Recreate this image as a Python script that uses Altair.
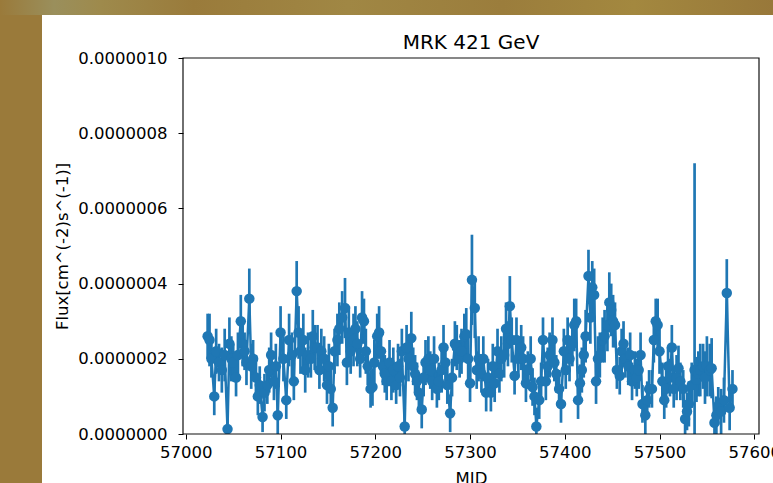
import altair as alt
import pandas as pd

# ---- data (flux in units of 1e-6 cm^-2 s^-1) ----
mjd = [
    57023, 57025, 57027, 57030, 57032, 57035, 57038, 57041, 57044, 57046,
    57048, 57050, 57053, 57055, 57058, 57060, 57062, 57064, 57067, 57069,
    57071, 57074, 57076, 57078, 57081, 57083, 57086, 57088, 57090, 57093,
    57095, 57097, 57100, 57103, 57106, 57109, 57112, 57114, 57117, 57119,
    57121, 57124, 57126, 57129, 57132, 57134, 57136, 57139, 57141, 57143,
    57146, 57149, 57151, 57153, 57155, 57157, 57160, 57162, 57165, 57168,
    57170, 57172, 57174, 57177, 57179, 57181, 57184, 57186, 57188, 57190,
    57192, 57195, 57197, 57199, 57202, 57204, 57206, 57208, 57210, 57212,
    57215, 57217, 57219, 57222, 57224, 57226, 57228, 57231, 57233, 57235,
    57238, 57240, 57242, 57244, 57246, 57249, 57251, 57253, 57256, 57258,
    57260, 57262, 57265, 57267, 57270, 57272, 57274, 57276, 57279, 57281,
    57284, 57286, 57289, 57291, 57294, 57296, 57298, 57300, 57302, 57305,
    57307, 57309, 57312, 57314, 57317, 57319, 57322, 57324, 57326, 57329,
    57331, 57333, 57336, 57338, 57340, 57342, 57344, 57347, 57349, 57351,
    57354, 57356, 57359, 57361, 57364, 57366, 57368, 57370, 57373, 57375,
    57377, 57380, 57382, 57384, 57387, 57389, 57391, 57394, 57396, 57399,
    57401, 57403, 57405, 57408, 57410, 57412, 57414, 57416, 57418, 57420,
    57422, 57425, 57427, 57429, 57431, 57433, 57435, 57437, 57440, 57442,
    57445, 57447, 57449, 57451, 57453, 57455, 57458, 57460, 57462, 57464,
    57467, 57469, 57471, 57474, 57476, 57478, 57480, 57482, 57485, 57487,
    57489, 57492, 57494, 57496, 57498, 57500, 57503, 57505, 57507, 57509,
    57511, 57513, 57515, 57518, 57520, 57522, 57525, 57527, 57529, 57531,
    57534, 57537, 57539, 57541, 57543, 57546, 57548, 57550, 57553, 57555,
    57558, 57560, 57562, 57565, 57568, 57571, 57574, 57577,
]
flux = [
    0.26, 0.25, 0.20, 0.10, 0.22, 0.19, 0.17, 0.21, 0.013, 0.24,
    0.20, 0.19, 0.15, 0.21, 0.30, 0.24, 0.22, 0.19, 0.36, 0.18,
    0.20, 0.15, 0.10, 0.13, 0.045, 0.11, 0.13, 0.17, 0.21, 0.14,
    0.18, 0.05, 0.27, 0.20, 0.09, 0.25, 0.21, 0.14, 0.38, 0.27,
    0.22, 0.25, 0.17, 0.21, 0.20, 0.26, 0.23, 0.23, 0.17, 0.22,
    0.20, 0.13, 0.18, 0.12, 0.07, 0.22, 0.25, 0.28, 0.31, 0.335,
    0.19, 0.27, 0.22, 0.25, 0.28, 0.24, 0.20, 0.31, 0.30, 0.22,
    0.18, 0.12, 0.125, 0.19, 0.26, 0.27, 0.22, 0.18, 0.16, 0.14,
    0.19, 0.14, 0.17, 0.13, 0.18, 0.15, 0.22, 0.02, 0.23, 0.20,
    0.255, 0.18, 0.16, 0.14, 0.11, 0.065, 0.15, 0.19, 0.20, 0.17,
    0.14, 0.20, 0.12, 0.14, 0.17, 0.23, 0.19, 0.13, 0.055, 0.15,
    0.24, 0.23, 0.20, 0.22, 0.26, 0.265, 0.20, 0.135, 0.41, 0.335,
    0.17, 0.20, 0.16, 0.20, 0.11, 0.15, 0.11, 0.18, 0.135, 0.22,
    0.16, 0.20, 0.21, 0.28, 0.24, 0.34, 0.25, 0.155, 0.25, 0.20,
    0.23, 0.20, 0.135, 0.17, 0.20, 0.125, 0.10, 0.02, 0.09, 0.14,
    0.25, 0.14, 0.18, 0.21, 0.25, 0.19, 0.16, 0.12, 0.08, 0.22,
    0.17, 0.25, 0.20, 0.24, 0.29, 0.30, 0.09, 0.135, 0.17, 0.21,
    0.26, 0.42, 0.31, 0.39, 0.37, 0.14, 0.20, 0.21, 0.25, 0.26,
    0.29, 0.35, 0.33, 0.30, 0.29, 0.17, 0.155, 0.22, 0.24, 0.20,
    0.18, 0.21, 0.14, 0.17, 0.15, 0.17, 0.21, 0.08, 0.05, 0.09,
    0.12, 0.12, 0.25, 0.30, 0.29, 0.22, 0.14, 0.09, 0.12, 0.18,
    0.15, 0.23, 0.12, 0.15, 0.175, 0.14, 0.12, 0.04, 0.06, 0.08,
    0.13, 0.17, 0.145, 0.16, 0.17, 0.18, 0.15, 0.18, 0.17, 0.175,
    0.03, 0.05, 0.075, 0.06, 0.09, 0.375, 0.07, 0.12,
]
err = [
    0.06, 0.07, 0.05, 0.05, 0.06, 0.05, 0.06, 0.07, 0.06, 0.07,
    0.06, 0.05, 0.05, 0.06, 0.07, 0.06, 0.05, 0.06, 0.08, 0.06,
    0.05, 0.06, 0.05, 0.05, 0.04, 0.05, 0.05, 0.06, 0.06, 0.05,
    0.06, 0.05, 0.07, 0.06, 0.05, 0.07, 0.06, 0.05, 0.08, 0.07,
    0.06, 0.07, 0.06, 0.06, 0.05, 0.07, 0.06, 0.06, 0.05, 0.06,
    0.06, 0.05, 0.06, 0.05, 0.05, 0.06, 0.07, 0.07, 0.07, 0.08,
    0.06, 0.07, 0.06, 0.07, 0.06, 0.06, 0.05, 0.07, 0.06, 0.06,
    0.05, 0.05, 0.05, 0.06, 0.06, 0.07, 0.06, 0.05, 0.05, 0.05,
    0.06, 0.05, 0.06, 0.05, 0.06, 0.05, 0.06, 0.05, 0.06, 0.06,
    0.07, 0.05, 0.05, 0.05, 0.05, 0.05, 0.05, 0.06, 0.06, 0.05,
    0.05, 0.06, 0.05, 0.05, 0.06, 0.06, 0.05, 0.05, 0.05, 0.05,
    0.06, 0.06, 0.05, 0.06, 0.06, 0.07, 0.06, 0.05, 0.12, 0.08,
    0.05, 0.06, 0.05, 0.06, 0.05, 0.05, 0.05, 0.06, 0.05, 0.06,
    0.05, 0.06, 0.06, 0.07, 0.06, 0.08, 0.06, 0.05, 0.06, 0.05,
    0.06, 0.06, 0.05, 0.05, 0.06, 0.05, 0.05, 0.05, 0.05, 0.05,
    0.06, 0.05, 0.05, 0.06, 0.06, 0.05, 0.05, 0.05, 0.05, 0.06,
    0.05, 0.06, 0.06, 0.06, 0.07, 0.06, 0.05, 0.05, 0.06, 0.06,
    0.07, 0.07, 0.07, 0.07, 0.07, 0.06, 0.06, 0.06, 0.06, 0.07,
    0.07, 0.08, 0.07, 0.07, 0.06, 0.05, 0.05, 0.06, 0.06, 0.05,
    0.05, 0.06, 0.05, 0.05, 0.05, 0.05, 0.06, 0.05, 0.05, 0.05,
    0.05, 0.05, 0.06, 0.06, 0.07, 0.06, 0.05, 0.05, 0.05, 0.05,
    0.05, 0.06, 0.05, 0.06, 0.06, 0.05, 0.05, 0.05, 0.05, 0.06,
    0.06, 0.55, 0.06, 0.06, 0.07, 0.06, 0.07, 0.08, 0.07, 0.08,
    0.05, 0.05, 0.05, 0.06, 0.06, 0.09, 0.06, 0.05,
]
assert len(mjd) == len(flux) == len(err)

x_ticks = [57000, 57100, 57200, 57300, 57400, 57500, 57600]
y_ticks = [0.0, 2e-7, 4e-7, 6e-7, 8e-7, 1e-6]
title_text = "MRK 421 GeV"
x_title = "MJD"
y_title = "Flux[cm^(-2)s^(-1)]"

UNIT = 1e-6
df = pd.DataFrame({
    "mjd": mjd,
    "flux": [f * UNIT for f in flux],
    "lo": [(f - e) * UNIT for f, e in zip(flux, err)],
    "hi": [(f + e) * UNIT for f, e in zip(flux, err)],
})

W, H = 576, 376
BLUE = "#1f77b4"
FONT = "DejaVu Sans"
one = pd.DataFrame({"k": [0]})

xs = alt.Scale(domain=[56997, 57605], nice=False, zero=False)
ys = alt.Scale(domain=[0, 1e-6], nice=False, zero=False)

x_axis = alt.Axis(values=x_ticks, format="d", title=x_title, grid=False,
                  domain=False, tickSize=5, tickColor="#000", tickWidth=1,
                  labelFontSize=16.5, labelFont=FONT, labelColor="#000",
                  labelPadding=5, labelFlush=False,
                  titleFontSize=16.5, titleFont=FONT, titleColor="#000",
                  titleFontWeight="normal", titlePadding=10, zindex=2)
y_axis = alt.Axis(values=y_ticks, format=".7f", title=y_title, grid=False,
                  domain=False, tickSize=5, tickColor="#000", tickWidth=1,
                  labelFontSize=16.5, labelFont=FONT, labelColor="#000",
                  labelPadding=11, labelFlush=False,
                  titleFontSize=16.5, titleFont=FONT, titleColor="#000",
                  titleFontWeight="normal", titlePadding=7, zindex=2)

# textured backdrop strip at the top of the screenshot
strip = alt.Chart(one).mark_rect(
    color=alt.Gradient(
        gradient="linear", x1=0, x2=1, y1=0, y2=0,
        stops=[
            alt.GradientStop(offset=0.0, color="#9a7a3a"),
            alt.GradientStop(offset=0.07, color="#9a8f5c"),
            alt.GradientStop(offset=0.13, color="#9e8a4c"),
            alt.GradientStop(offset=0.25, color="#9a7b3b"),
            alt.GradientStop(offset=0.45, color="#a08744"),
            alt.GradientStop(offset=0.65, color="#9b7d3c"),
            alt.GradientStop(offset=0.82, color="#a3883f"),
            alt.GradientStop(offset=1.0, color="#98783a"),
        ],
    )
).encode(x=alt.value(-183), x2=alt.value(W + 14), y=alt.value(-58), y2=alt.value(-43))

panel = alt.Chart(one).mark_rect(color="white").encode(
    x=alt.value(-141), x2=alt.value(W + 14),
    y=alt.value(-43), y2=alt.value(H + 49),
)

title = alt.Chart(one).mark_text(
    text=title_text, font=FONT, fontSize=20, color="#000",
    align="center", baseline="alphabetic",
).encode(x=alt.value(W / 2), y=alt.value(-9))

base = alt.Chart(df)
bars = base.mark_rule(color=BLUE, strokeWidth=2.7, clip=True).encode(
    x=alt.X("mjd:Q", scale=xs, axis=x_axis),
    y=alt.Y("lo:Q", scale=ys, axis=y_axis),
    y2="hi:Q",
)
line = base.mark_line(color=BLUE, strokeWidth=2.5, clip=True).encode(
    x=alt.X("mjd:Q", scale=xs),
    y=alt.Y("flux:Q", scale=ys),
)
pts = base.mark_circle(color=BLUE, size=110, opacity=1, clip=True).encode(
    x=alt.X("mjd:Q", scale=xs),
    y=alt.Y("flux:Q", scale=ys),
)
frame = alt.Chart(one).mark_rect(
    fillOpacity=0, stroke="#111", strokeWidth=1.2
).encode(x=alt.value(0), x2=alt.value(W), y=alt.value(0), y2=alt.value(H))

chart = alt.layer(strip, panel, title, bars, line, pts, frame).properties(
    width=W, height=H,
    padding={"left": 183, "top": 58, "right": 14, "bottom": 49},
    autosize=alt.AutoSizeParams(type="none"),
    background="#9a7a3a",
).configure_view(stroke="transparent")

chart.save("out.html", embed_options={"renderer": "svg", "actions": False})
